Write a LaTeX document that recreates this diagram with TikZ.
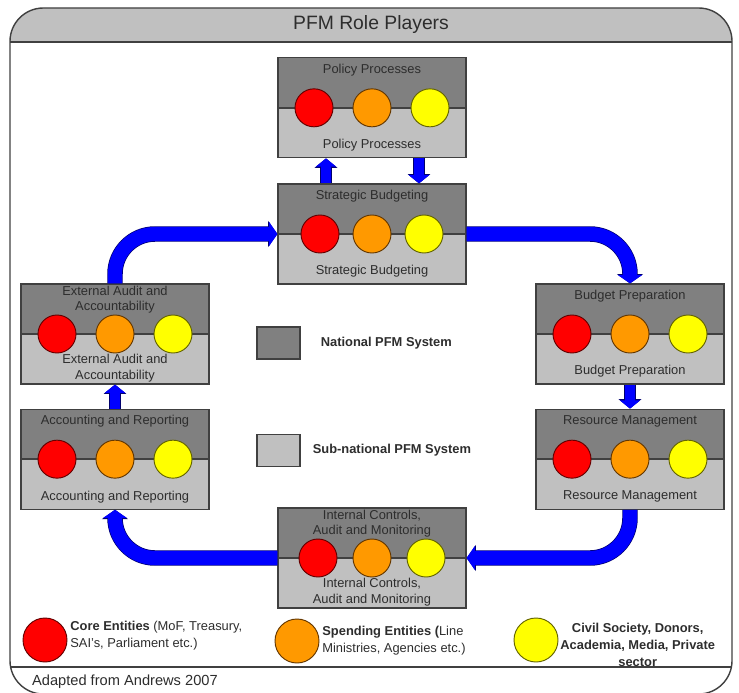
\documentclass[tikz,border=0pt]{standalone}
\usepackage{fontspec}
\setmainfont{Liberation Sans}
\usetikzlibrary{arrows.meta, positioning}
\definecolor{natgray}{RGB}{128,128,128}
\definecolor{subgray}{RGB}{192,192,192}
\definecolor{edgegray}{RGB}{64,64,64}
\definecolor{inkgray}{RGB}{45,45,45}
\definecolor{flowblue}{RGB}{0,0,255}
\definecolor{flowedge}{RGB}{0,0,110}
\definecolor{corered}{RGB}{255,0,0}
\definecolor{coreedge}{RGB}{100,0,0}
\definecolor{spendorange}{RGB}{255,153,0}
\definecolor{spendedge}{RGB}{100,55,0}
\definecolor{civyellow}{RGB}{255,255,0}
\definecolor{civedge}{RGB}{100,100,0}
\tikzstyle{system}=[rectangle, draw=edgegray, line width=1pt, fill=subgray, minimum width=5.64cm, minimum height=3cm, path picture={\fill[natgray] (path picture bounding box.north west) rectangle (path picture bounding box.east); \draw[edgegray, line width=1.2pt] (path picture bounding box.west) -- (path picture bounding box.east);}]
\tikzstyle{boxtext}=[text=inkgray, font=\fontsize{11}{13.5}\selectfont, align=center, inner sep=0pt]
\tikzstyle{core}=[circle, draw=coreedge, fill=corered, line width=0.8pt, minimum size=1.14cm, inner sep=0pt]
\tikzstyle{spend}=[circle, draw=spendedge, fill=spendorange, line width=0.8pt, minimum size=1.14cm, inner sep=0pt]
\tikzstyle{civil}=[circle, draw=civedge, fill=civyellow, line width=0.8pt, minimum size=1.14cm, inner sep=0pt]
\tikzstyle{flow}=[draw=flowblue, line width=12pt, rounded corners=1.2cm, -{Triangle[width=20pt,length=7pt]}, preaction={draw=flowedge, line width=13.2pt, -{Triangle[width=22pt,length=8pt]}}]
\tikzstyle{lift}=[draw=flowblue, line width=8.5pt, -{Triangle[width=17pt,length=7pt]}, preaction={draw=flowedge, line width=9.7pt, -{Triangle[width=19pt,length=8pt]}}]
\tikzstyle{natkey}=[rectangle, draw=edgegray, line width=1pt, fill=natgray, minimum width=1.29cm, minimum height=0.96cm]
\tikzstyle{subkey}=[rectangle, draw=edgegray, line width=1pt, fill=subgray, minimum width=1.29cm, minimum height=0.96cm]
\tikzstyle{keytext}=[text=inkgray, font=\fontsize{11}{13}\selectfont\bfseries, inner sep=0pt]
\tikzstyle{legtext}=[text=inkgray, font=\fontsize{11}{14.5}\selectfont, inner sep=0pt]
\newcommand{\rolebox}[5]{%
  \node[system, #2] (#1) {};
  \node[boxtext, yshift=-#4] (#1top) at (#1.north) {#3};
  \node[boxtext, yshift=#4] (#1bot) at (#1.south) {#3};
  \node[core] (#1core) at ([xshift=-#5]#1.center) {};
  \node[spend] (#1spend) at (#1.center) {};
  \node[civil] (#1civil) at ([xshift=#5]#1.center) {};}
\begin{document}
\begin{tikzpicture}[node distance=0.72cm]
	\useasboundingbox (0,0) rectangle (22.17,-20.79);
	% frame and title band
	\begin{scope}
		\clip (0,0) rectangle (22.17,-1.26);
		\fill[subgray, rounded corners=1cm] (0.3,-0.24) rectangle (21.96,-20.82);
	\end{scope}
	\draw[edgegray, line width=1.2pt, rounded corners=1cm] (0.3,-0.24) rectangle (21.96,-20.82);
	\draw[edgegray, line width=1.2pt] (0.3,-1.26) -- (21.96,-1.26);
	\draw[edgegray, line width=1.2pt] (0.3,-20.01) -- (21.96,-20.01);
	\node[font=\fontsize{16.5}{20}\selectfont, text=inkgray] (title) at (11.13,-0.75) {PFM Role Players};
	\node[font=\fontsize{12.5}{15}\selectfont, text=inkgray, anchor=west] (source) at (0.84,-20.46) {Adapted from Andrews 2007};

	% role boxes
	\rolebox{sb}{at={(11.16,-7.02)}}{Strategic Budgeting}{0.39cm}{1.56cm}
	\rolebox{pp}{above=0.75cm of sb}{Policy Processes}{0.39cm}{1.74cm}
	\rolebox{ea}{at={(3.45,-10.02)}}{External Audit and\\Accountability}{0.49cm}{1.74cm}
	\rolebox{ar}{below=of ea}{Accounting and Reporting}{0.39cm}{1.74cm}
	\rolebox{bp}{at={(18.9,-10.02)}}{Budget Preparation}{0.39cm}{1.74cm}
	\rolebox{rm}{below=of bp}{Resource Management}{0.39cm}{1.74cm}
	\rolebox{ic}{at={(11.16,-16.74)}}{Internal Controls,\\Audit and Monitoring}{0.49cm}{1.62cm}

	% cycle
	\draw[flow] (ea.north) |- (sb.west);
	\draw[flow] (sb.east) -| (bp.north);
	\draw[flow] (rm.south) |- (ic.east);
	\draw[flow] (ic.west) -| (ar.south);
	\draw[lift] ([xshift=-1.38cm]sb.north) -- ([xshift=-1.38cm]pp.south);
	\draw[lift] ([xshift=1.41cm]pp.south) -- ([xshift=1.41cm]sb.north);
	\draw[lift] (ar.north) -- (ea.south);
	\draw[lift] (bp.south) -- (rm.north);

	% legend
	\node[natkey] (nat) at (8.355,-10.29) {};
	\node[subkey, below=2.22cm of nat] (sub) {};
	\node[keytext, right=0.6cm of nat] (nattext) {National PFM System};
	\node[keytext, right=0.36cm of sub] (subtext) {Sub-national PFM System};

	\node[core, minimum size=1.32cm] (corekey) at (1.35,-19.2) {};
	\node[legtext, right=0.08cm of corekey, yshift=0.12cm, align=left] (coretext) {\textbf{Core Entities} (MoF, Treasury,\\SAI's, Parliament etc.)};
	\node[spend, minimum size=1.32cm] (spendkey) at (8.91,-19.23) {};
	\node[legtext, right=0.08cm of spendkey, align=left] (spendtext) {\textbf{Spending Entities (}Line\\Ministries, Agencies etc.)};
	\node[civil, minimum size=1.32cm] (civkey) at (16.08,-19.2) {};
	\node[legtext, right=0.05cm of civkey, yshift=-0.15cm, align=center, font=\fontsize{11}{14.5}\selectfont\bfseries] (civtext) {Civil Society, Donors,\\Academia, Media, Private\\sector};
\end{tikzpicture}
\end{document}
